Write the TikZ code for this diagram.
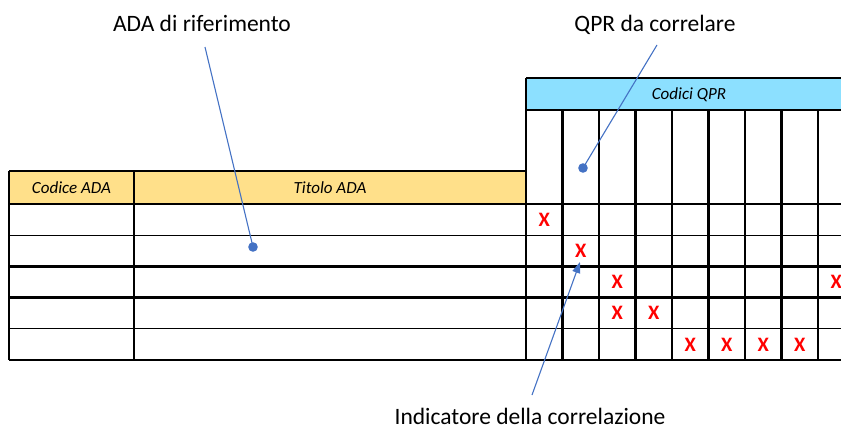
\documentclass[tikz,border=0pt]{standalone}
\usepackage{fontspec}
\setmainfont{Carlito}
\usetikzlibrary{arrows.meta}

\definecolor{callblue}{RGB}{68,114,196}
\definecolor{adayellow}{RGB}{255,224,138}
\definecolor{qprcyan}{RGB}{140,224,255}

\tikzset{
	thinrule/.style={line width=1.1pt},
	thickrule/.style={line width=2.3pt},
	crossmark/.style={text=red, font=\fontsize{20.5}{20}\selectfont\bfseries, inner sep=0pt},
	callout/.style={draw=callblue, line width=1.1pt},
	labeltext/.style={font=\fontsize{23.5}{24}\selectfont, anchor=base, inner sep=1pt},
	headtext/.style={font=\fontsize{17}{17}\selectfont\itshape},
}

\begin{document}
\begin{tikzpicture}[x=1pt,y=-1pt]
		\useasboundingbox (0,0) rectangle (841,428);
		\clip (0,0) rectangle (841,428);

		\fill[adayellow] (9,171) rectangle (526,204);
		\fill[qprcyan] (526,78) rectangle (860,110);
		\node[headtext] (codice) at (71.5,188) {Codice ADA};
		\node[headtext] (titolo) at (330,188) {Titolo ADA};
		\node[headtext] (codici) at (689,95) {Codici QPR};

		\draw[thinrule] (9,171) -- (526,171);
		\draw[thinrule] (526,78) -- (860,78);
		\draw[thinrule] (526,110) -- (860,110);
		\draw[thinrule] (526,78) -- (526,360);
		\draw[thinrule] (9,171) -- (9,360);
		\draw[thickrule] (134,171) -- (134,360);
		\foreach \y in {204,235.2,328.8,360}
			\draw[thinrule] (9,\y) -- (860,\y);
		\foreach \y in {266.4,297.6}
			\draw[thickrule] (9,\y) -- (860,\y);
		\foreach \i in {2,4,6,8}
			\draw[thinrule] ({526+36.5*\i},110) -- ({526+36.5*\i},360);
		\foreach \i in {1,3,5,7,9}
			\draw[thickrule] ({526+36.5*\i},110) -- ({526+36.5*\i},360);

		\foreach \r/\c in {1/0,2/1,3/2,3/8,4/2,4/3,5/4,5/5,5/6,5/7}
			\node[crossmark] (x\r\c) at ({526+36.5*(\c+0.5)},{204+31.2*(\r-0.5)}) {X};

		\node[labeltext] (adaref) at (202,31.7) {ADA di riferimento};
		\node[labeltext] (qprcor) at (655,31.7) {QPR da correlare};
		\node[labeltext] (indcor) at (530,424) {Indicatore della correlazione};

		\coordinate (adatail) at (205,47);
		\coordinate (adadot) at (253,247);
		\coordinate (qprtail) at (657,45);
		\coordinate (qprdot) at (583,168);
		\coordinate (indtail) at (532,395);
		\coordinate (indtip) at (580,262);

		\draw[callout] (adatail) -- (adadot);
		\fill[callblue] (adadot) circle (4.8);
		\draw[callout] (qprtail) -- (qprdot);
		\fill[callblue] (qprdot) circle (4.8);
		\draw[callout, -{Triangle[length=11pt,width=8pt]}] (indtail) -- (indtip);
	\end{tikzpicture}
\end{document}
